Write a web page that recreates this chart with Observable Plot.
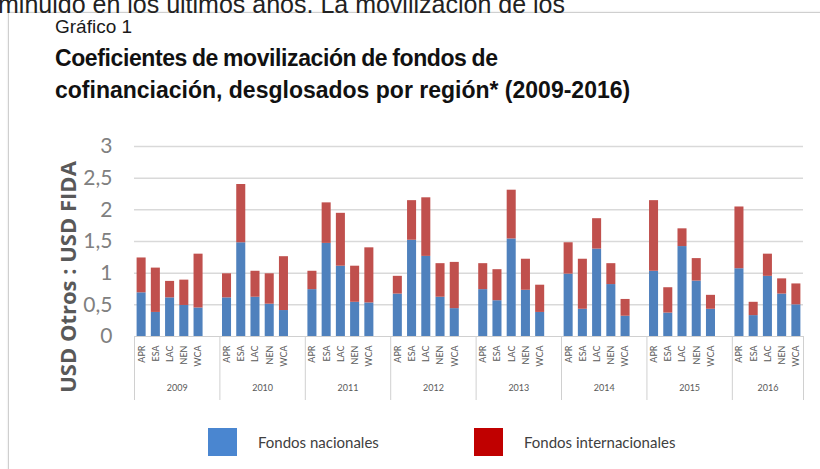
<!DOCTYPE html>
<html>
<head>
<meta charset="utf-8">
<script src="https://cdn.jsdelivr.net/npm/d3@7"></script>
<script src="https://cdn.jsdelivr.net/npm/@observablehq/plot@0.6"></script>
<style>
  html, body { margin: 0; padding: 0; background: #fff; }
  #page { position: relative; width: 820px; height: 469px; overflow: hidden; background: #fff; }
  #cut { position: absolute; left: -2px; top: -10px; font: 25px/28px "Liberation Sans", Arial, sans-serif; color: #222; white-space: nowrap; }
  #frame { position: absolute; left: 8px; top: 12px; width: 900px; height: 600px; border: 1px solid #cfcfcf; box-shadow: 0 0 2px #e0e0e0; }
  #kicker { position: absolute; left: 55px; top: 16px; font: 19px/22px "Liberation Sans", Arial, sans-serif; color: #1a1a1a; }
  .title { position: absolute; left: 55px; font: bold 23px/32px "Liberation Sans", Arial, sans-serif; color: #111; white-space: nowrap; }
  #t1 { top: 42px; letter-spacing: -0.4px; word-spacing: -1px; }
  #t2 { top: 74px; letter-spacing: 0px; word-spacing: 0px; }
  #ylab { position: absolute; left: -83px; top: 264px; width: 300px; text-align: center; transform: rotate(-90deg); font: bold 22px/26px "Open Sans", Lato, sans-serif; color: #595959; white-space: nowrap; }
  #chart { position: absolute; left: 0; top: 130px; }
  .leg { position: absolute; top: 428px; font: 15px Lato, "Open Sans", sans-serif; color: #404040; display: flex; align-items: center; }
  .sw { width: 29px; height: 28px; margin-right: 21px; }
</style>
</head>
<body>
<div id="page">
  <div id="frame"></div>
  <div id="cut">minuido en los últimos años. La movilización de los</div>
  <div id="kicker">Gráfico 1</div>
  <div class="title" id="t1">Coeficientes de movilización de fondos de</div>
  <div class="title" id="t2">cofinanciación, desglosados por región* (2009-2016)</div>
  <div id="chart"></div>
  <div id="ylab"></div>
  <div class="leg" style="left:208px"><div class="sw" id="sw0"></div><span id="lg0"></span></div>
  <div class="leg" style="left:474px"><div class="sw" id="sw1"></div><span id="lg1"></span></div>
</div>
<script>
const years = ["2009", "2010", "2011", "2012", "2013", "2014", "2015", "2016"];
const regions = ["APR", "ESA", "LAC", "NEN", "WCA"];
const series = ["Fondos nacionales", "Fondos internacionales"];
const yTicks = [0, 0.5, 1, 1.5, 2, 2.5, 3];
const yLabel = "USD Otros : USD FIDA";

// Fondos nacionales, per year, per region (APR, ESA, LAC, NEN, WCA)
const nacionales = [
  [0.69, 0.38, 0.61, 0.49, 0.45],
  [0.61, 1.48, 0.62, 0.51, 0.41],
  [0.74, 1.47, 1.11, 0.54, 0.53],
  [0.67, 1.52, 1.265, 0.62, 0.44],
  [0.74, 0.565, 1.54, 0.73, 0.38],
  [0.985, 0.43, 1.38, 0.82, 0.32],
  [1.03, 0.37, 1.42, 0.875, 0.43],
  [1.07, 0.33, 0.95, 0.67, 0.50]
];
// Fondos internacionales, per year, per region
const internacionales = [
  [0.55, 0.70, 0.26, 0.40, 0.85],
  [0.38, 0.92, 0.41, 0.48, 0.85],
  [0.29, 0.64, 0.835, 0.57, 0.87],
  [0.28, 0.625, 0.925, 0.53, 0.73],
  [0.41, 0.49, 0.77, 0.49, 0.43],
  [0.495, 0.79, 0.48, 0.33, 0.265],
  [1.115, 0.40, 0.28, 0.355, 0.22],
  [0.975, 0.21, 0.35, 0.24, 0.33]
];

const colors = ["#4f81bd", "#c0504d"];
const legendColors = ["#4a86d0", "#c00000"];

// Each year occupies 6 slots (5 regions + 1 blank), the last one only 5
const slotsPerYear = regions.length + 1;
const nSlots = years.length * slotsPerYear - 1;

const table = [];
years.forEach((yr, i) => regions.forEach((rg, j) => {
  const slot = i * slotsPerYear + j;
  const a = nacionales[i][j], b = internacionales[i][j];
  table.push({year: yr, region: rg, slot, serie: series[0], y1: 0, y2: a});
  table.push({year: yr, region: rg, slot, serie: series[1], y1: a, y2: a + b});
}));
const labels = table.filter(d => d.serie === series[0]);
const groups = years.map((yr, i) => {
  const n = i === years.length - 1 ? regions.length : slotsPerYear;
  return {year: yr, start: i * slotsPerYear, center: i * slotsPerYear + n / 2};
});
const seps = groups.map(g => g.start).concat([nSlots]);

const fmt = d => String(d).replace(".", ",");

const plot = Plot.plot({
  width: 820,
  height: 280,
  marginTop: 16,
  marginBottom: 74,
  marginLeft: 134,
  marginRight: 17,
  style: {fontFamily: "Lato, 'Open Sans', sans-serif", background: "transparent", overflow: "visible"},
  x: {type: "linear", domain: [0, nSlots], axis: null},
  y: {domain: [0, 3], axis: null},
  color: {domain: series, range: colors},
  marks: [
    Plot.ruleY(yTicks.filter(d => d > 0), {stroke: "#d9d9d9", strokeWidth: 1.5}),
    Plot.rect(table, {x1: "slot", x2: d => d.slot + 1, y1: "y1", y2: "y2", fill: "serie", insetLeft: 2.6, insetRight: 2.6}),
    Plot.ruleY([0], {stroke: "#d0d0d0", strokeWidth: 1}),
    Plot.ruleX(seps, {x: d => d, insetTop: 190, insetBottom: -64, stroke: "#d0d0d0", strokeWidth: 1}),
    Plot.text(yTicks, {y: d => d, text: fmt, frameAnchor: "left", textAnchor: "end", dx: -22, fontSize: 21, fill: "#808080"}),
    Plot.text(labels, {x: d => d.slot + 0.5, text: "region", frameAnchor: "bottom", rotate: -90, textAnchor: "end", lineAnchor: "middle", dy: 9, fontSize: 9, fill: "#595959"}),
    Plot.text(groups, {x: "center", text: "year", frameAnchor: "bottom", dy: 54, fontSize: 9, fill: "#595959"})
  ]
});
document.getElementById("chart").appendChild(plot);
document.getElementById("ylab").textContent = yLabel;

series.forEach((s, i) => {
  document.getElementById("sw" + i).style.background = legendColors[i];
  document.getElementById("lg" + i).textContent = s;
});
</script>
</body>
</html>
